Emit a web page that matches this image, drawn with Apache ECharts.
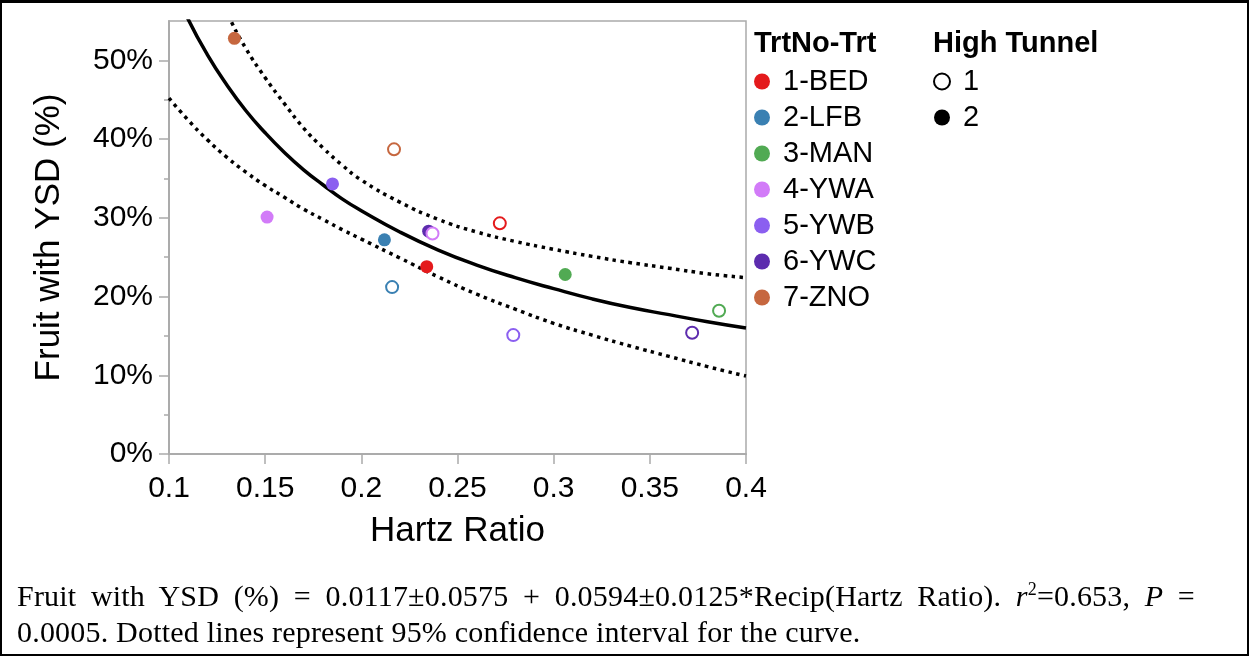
<!DOCTYPE html>
<html>
<head>
<meta charset="utf-8">
<script src="https://cdn.jsdelivr.net/npm/echarts@6/dist/echarts.min.js"></script>
<style>
  html, body { margin: 0; padding: 0; background: #fff; }
  #chart { position: absolute; left: 0; top: 0; width: 1249px; height: 656px; }
  #frame { position: absolute; left: 0; top: 0; width: 1249px; height: 656px; box-sizing: border-box;
           border: 2px solid #000; border-top-width: 3px; pointer-events: none; }
  #caption { position: absolute; left: 17px; top: 578px; width: 1178px; color: #000;
             font-family: "Liberation Serif", "Times New Roman", serif; font-size: 30px; line-height: 36px;
             letter-spacing: 0.2px; white-space: nowrap; }
  #caption .first { text-align: justify; text-align-last: justify; }
  #caption sup { font-size: 18px; line-height: 0; vertical-align: 11px; }
</style>
</head>
<body>
<div id="chart"></div>
<div id="caption"><div class="first">Fruit with YSD (%) = 0.0117±0.0575 + 0.0594±0.0125*Recip(Hartz Ratio). <i>r</i><sup>2</sup>=0.653, <i>P</i> =</div><div>0.0005. Dotted lines represent 95% confidence interval for the curve.</div></div>
<div id="frame"></div>
<script>
const trtNames = ['1-BED', '2-LFB', '3-MAN', '4-YWA', '5-YWB', '6-YWC', '7-ZNO'];
const trtColors = ['#e41a1c', '#3a80b2', '#51aa53', '#d27bf8', '#8b5ff0', '#5d2cae', '#c6673f'];

// High Tunnel 1 (open circles)
const hartzT1 = [0.272, 0.216, 0.386, 0.237, 0.279, 0.372, 0.217];
const ysdT1 = [0.293, 0.212, 0.182, 0.280, 0.151, 0.154, 0.387];
// High Tunnel 2 (filled circles)
const hartzT2 = [0.234, 0.212, 0.306, 0.151, 0.185, 0.235, 0.134];
const ysdT2 = [0.238, 0.272, 0.228, 0.301, 0.343, 0.283, 0.528];

// fitted curve and 95% band
const curveX = [0.10, 0.11, 0.12, 0.13, 0.14, 0.15, 0.16, 0.17, 0.18, 0.19, 0.20, 0.22, 0.24, 0.26, 0.28, 0.30, 0.32, 0.34, 0.36, 0.38, 0.40];
const fitY   = [0.606, 0.552, 0.507, 0.469, 0.436, 0.408, 0.383, 0.361, 0.342, 0.324, 0.309, 0.282, 0.259, 0.240, 0.224, 0.210, 0.197, 0.186, 0.177, 0.168, 0.160];
const upperY = [0.757, 0.680, 0.615, 0.561, 0.515, 0.478, 0.445, 0.414, 0.389, 0.367, 0.348, 0.320, 0.298, 0.282, 0.270, 0.260, 0.251, 0.243, 0.236, 0.229, 0.224];
const lowerY = [0.452, 0.424, 0.399, 0.377, 0.358, 0.341, 0.326, 0.311, 0.298, 0.285, 0.273, 0.249, 0.225, 0.203, 0.184, 0.166, 0.151, 0.137, 0.124, 0.111, 0.099];

const yTicks = [0, 0.1, 0.2, 0.3, 0.4, 0.5];
const yMinorTicks = [0.05, 0.15, 0.25, 0.35, 0.45];

const chart = echarts.init(document.getElementById('chart'), null, { renderer: 'canvas' });
const font = '"Liberation Sans", Arial, sans-serif';
const axisGray = '#ababab';

const curve = (ys) => curveX.map((x, i) => [x, ys[i]]);

const lineSeries = (name, ys, type) => ({
  name: name,
  type: 'line',
  data: curve(ys),
  showSymbol: false,
  smooth: 0.5,
  silent: true,
  lineStyle: { color: '#000', width: 3.5, type: type },
  z: 1,
});

const legendText = { fontFamily: font, fontSize: 29, lineHeight: 24, color: '#000' };
const headText = { fontFamily: font, fontSize: 29, fontWeight: 'bold', color: '#000' };

const option = {
  animation: false,
  textStyle: { fontFamily: font },
  title: [
    { text: 'TrtNo-Trt', left: 754, top: 29, padding: 0, textStyle: headText },
    { text: 'High Tunnel', left: 933, top: 29, padding: 0, textStyle: headText },
  ],
  legend: [
    {
      data: trtNames,
      orient: 'vertical',
      left: 754, top: 67,
      padding: 0,
      itemWidth: 32, itemHeight: 16, itemGap: 7,
      icon: 'circle',
      selectedMode: false,
      textStyle: legendText,
    },
    {
      data: ['1', '2'],
      orient: 'vertical',
      left: 933, top: 67,
      padding: 0,
      itemWidth: 32, itemHeight: 16, itemGap: 7,
      icon: 'circle',
      selectedMode: false,
      textStyle: legendText,
    },
  ],
  grid: {
    left: 169, right: 503, top: 21, bottom: 202,
    show: true, borderColor: axisGray, borderWidth: 1.5,
  },
  xAxis: {
    type: 'value',
    min: 0.1, max: 0.4, interval: 0.05,
    name: 'Hartz Ratio',
    nameLocation: 'middle',
    nameGap: 60,
    nameTextStyle: { fontFamily: font, fontSize: 35, color: '#000' },
    axisLine: { show: true, lineStyle: { color: axisGray, width: 2 } },
    axisTick: { show: true, length: 10, lineStyle: { color: axisGray, width: 1.5 } },
    axisLabel: { fontFamily: font, fontSize: 30, color: '#000', margin: 20 },
    splitLine: { show: false },
  },
  yAxis: [
    {
      type: 'value',
      min: 0, max: 0.55,
      name: 'Fruit with YSD (%)',
      nameLocation: 'middle',
      nameGap: 102,
      nameTextStyle: { fontFamily: font, fontSize: 35, color: '#000' },
      axisLine: { show: true, lineStyle: { color: axisGray, width: 2 } },
      axisTick: { show: true, length: 10, customValues: yTicks, lineStyle: { color: axisGray, width: 1.5 } },
      axisLabel: {
        fontFamily: font, fontSize: 30, color: '#000', margin: 16,
        customValues: yTicks,
        formatter: (v) => Math.round(v * 100) + '%',
      },
      splitLine: { show: false },
    },
    {
      type: 'value',
      min: 0, max: 0.55,
      position: 'left',
      axisLine: { show: false },
      axisTick: { show: true, length: 5, customValues: yMinorTicks, lineStyle: { color: axisGray, width: 1.5 } },
      axisLabel: { show: false },
      splitLine: { show: false },
    },
  ],
  series: [
    lineSeries('upper', upperY, [3.5, 4.5]),
    lineSeries('lower', lowerY, [3.5, 4.5]),
    lineSeries('fit', fitY, 'solid'),
    ...trtNames.map((n, i) => ({
      name: n,
      type: 'scatter',
      data: [],
      itemStyle: { color: trtColors[i], opacity: 1 },
    })),
    {
      name: '2',
      type: 'scatter',
      symbolSize: 13,
      itemStyle: { color: '#000', opacity: 1 },
      data: trtNames.map((n, i) => ({
        name: n,
        value: [hartzT2[i], ysdT2[i]],
        itemStyle: { color: trtColors[i] },
      })),
      z: 3,
    },
    {
      name: '1',
      type: 'scatter',
      symbolSize: 12,
      itemStyle: { color: '#fff', borderColor: '#000', borderWidth: 2, opacity: 1 },
      data: trtNames.map((n, i) => ({
        name: n,
        value: [hartzT1[i], ysdT1[i]],
        itemStyle: { borderColor: trtColors[i] },
      })),
      z: 4,
    },
  ],
};

chart.setOption(option);
</script>
</body>
</html>
